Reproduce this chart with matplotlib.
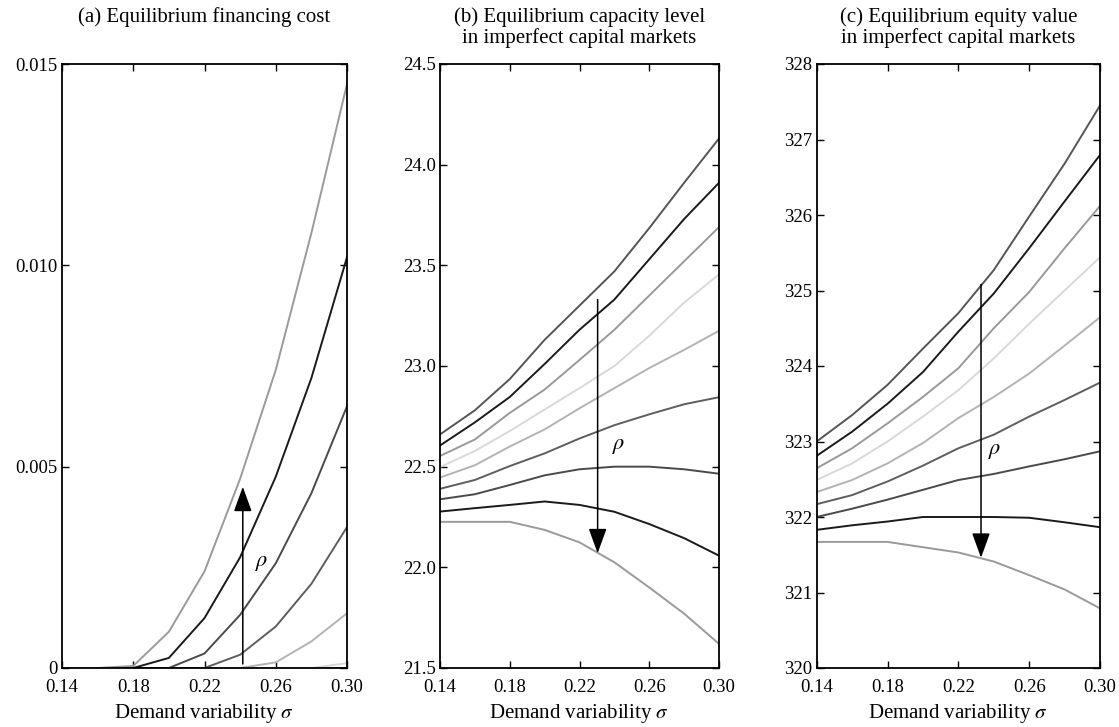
import numpy as np
import matplotlib
matplotlib.use("Agg")
import matplotlib.pyplot as plt
from matplotlib.ticker import FixedLocator, FixedFormatter

plt.rcParams['font.family'] = ['Liberation Serif', 'DejaVu Serif']
plt.rcParams['mathtext.fontset'] = 'stix'

# demand variability sigma
sigma = [0.14, 0.16, 0.18, 0.20, 0.22, 0.24, 0.26, 0.28, 0.30]

# (a) financing cost, one row per rho (low -> high)
cost = [
    [0, 0, 0, 0, 0, 0, 0, 0, 0],
    [0, 0, 0, 0, 0, 0, 0, 0, 0],
    [0, 0, 0, 0, 0, 0, 0, 0, 0],
    [0, 0, 0, 0, 0, 0, 0, 0, 0.00012],
    [0, 0, 0, 0, 0, 0, 0.00014, 0.00066, 0.00136],
    [0, 0, 0, 0, 0, 0.00033, 0.00103, 0.00209, 0.0035],
    [0, 0, 0, 0, 0.00036, 0.00132, 0.0026, 0.00434, 0.0065],
    [0, 0, 0, 0.00025, 0.00124, 0.00275, 0.00475, 0.0072, 0.0102],
    [0, 0, 0.00005, 0.0009, 0.0024, 0.0047, 0.0074, 0.0108, 0.0145],
]

# (b) capacity level
capacity = [
    [22.66, 22.78, 22.935, 23.13, 23.30, 23.47, 23.685, 23.91, 24.13],
    [22.605, 22.72, 22.846, 23.01, 23.18, 23.33, 23.53, 23.73, 23.91],
    [22.553, 22.635, 22.767, 22.883, 23.03, 23.18, 23.35, 23.52, 23.69],
    [22.498, 22.578, 22.677, 22.784, 22.89, 23.0, 23.15, 23.315, 23.455],
    [22.446, 22.507, 22.6, 22.685, 22.79, 22.89, 22.99, 23.08, 23.175],
    [22.39, 22.434, 22.503, 22.566, 22.64, 22.706, 22.76, 22.81, 22.845],
    [22.338, 22.363, 22.409, 22.457, 22.487, 22.5, 22.5, 22.487, 22.465],
    [22.277, 22.294, 22.31, 22.327, 22.31, 22.276, 22.215, 22.145, 22.058],
    [22.226, 22.226, 22.226, 22.186, 22.124, 22.025, 21.90, 21.77, 21.62],
]

# (c) equity value
equity = [
    [323.0, 323.35, 323.75, 324.23, 324.70, 325.27, 325.98, 326.68, 327.45],
    [322.81, 323.13, 323.5, 323.92, 324.455, 324.96, 325.56, 326.18, 326.795],
    [322.645, 322.91, 323.24, 323.59, 323.97, 324.5, 324.98, 325.56, 326.12],
    [322.49, 322.71, 323.0, 323.33, 323.68, 324.1, 324.56, 325.0, 325.44],
    [322.33, 322.49, 322.71, 322.98, 323.31, 323.59, 323.9, 324.27, 324.645],
    [322.17, 322.29, 322.47, 322.68, 322.91, 323.09, 323.33, 323.55, 323.78],
    [322.0, 322.11, 322.23, 322.36, 322.49, 322.57, 322.67, 322.765, 322.87],
    [321.83, 321.89, 321.94, 322.0, 322.0, 322.0, 321.99, 321.93, 321.865],
    [321.67, 321.67, 321.67, 321.60, 321.53, 321.41, 321.23, 321.04, 320.79],
]

colors = ['#555555', '#1a1a1a', '#999999', '#d9d9d9', '#b3b3b3',
          '#5e5e5e', '#4a4a4a', '#1a1a1a', '#9a9a9a']

titles = ['(a) Equilibrium financing cost',
          '(b) Equilibrium capacity level\nin imperfect capital markets',
          '(c) Equilibrium equity value\nin imperfect capital markets']

xticks = [0.14, 0.18, 0.22, 0.26, 0.30]
xticklabels = ['0.14', '0.18', '0.22', '0.26', '0.30']
yticks_a = [0, 0.005, 0.010, 0.015]
yticklabels_a = ['0', '0.005', '0.010', '0.015']
yticks_b = [21.5, 22.0, 22.5, 23.0, 23.5, 24.0, 24.5]
yticks_c = [320, 321, 322, 323, 324, 325, 326, 327, 328]

# arrows: (tail), (tip), rho label position
arrows = [
    ((0.2415, 0.0001), (0.2415, 0.0045), (0.252, 0.0026)),
    ((0.2304, 23.33), (0.2304, 22.07), (0.2423, 22.60)),
    ((0.2328, 325.08), (0.2328, 321.46), (0.2407, 322.87)),
]

W, H = 1119, 727
fig = plt.figure(figsize=(W / 100, H / 100), dpi=100)
boxes = [(62, 347), (440, 719), (816.7, 1100)]
top, bot = 64, 668

axes = []
for (l, r) in boxes:
    ax = fig.add_axes([l / W, (H - bot) / H, (r - l) / W, (bot - top) / H])
    axes.append(ax)

datasets = [cost, capacity, equity]
ylims = [(0, 0.015), (21.5, 24.5), (320, 328)]

for k, ax in enumerate(axes):
    for i, ys in enumerate(datasets[k]):
        ax.plot(sigma, ys, color=colors[i], lw=1.4, solid_joinstyle='miter')
    ax.set_xlim(0.14, 0.30)
    ax.set_ylim(*ylims[k])
    ax.set_xticks(xticks)
    ax.set_xticklabels(xticklabels)
    ax.tick_params(direction='in', top=True, right=True, length=5, width=1,
                   labelsize=13.5, pad=3)
    ax.tick_params(axis='x', pad=8)
    for s in ax.spines.values():
        s.set_linewidth(1.3)
    ax.set_xlabel(r'Demand variability $\sigma$', fontsize=15, labelpad=4)
    cx = (boxes[k][0] + boxes[k][1]) / 2 / W
    fig.text(cx, 1 - 7 / H, titles[k], ha='center', va='top', fontsize=15,
             linespacing=1.1)
    tail, tip, lab = arrows[k]
    ax.annotate('', xy=tip, xytext=tail,
                arrowprops=dict(arrowstyle='-|>,head_length=1.1,head_width=0.4',
                                color='black', lw=1.1, mutation_scale=14,
                                shrinkA=0, shrinkB=0))
    ax.text(lab[0], lab[1], r'$\rho$', fontsize=16, ha='center', va='center')

axes[0].yaxis.set_major_locator(FixedLocator(yticks_a))
axes[0].yaxis.set_major_formatter(FixedFormatter(yticklabels_a))
axes[1].set_yticks(yticks_b)
axes[1].set_yticklabels(['%.1f' % v for v in yticks_b])
axes[2].set_yticks(yticks_c)
axes[2].set_yticklabels([str(v) for v in yticks_c])

fig.savefig('out.png', dpi=100)
